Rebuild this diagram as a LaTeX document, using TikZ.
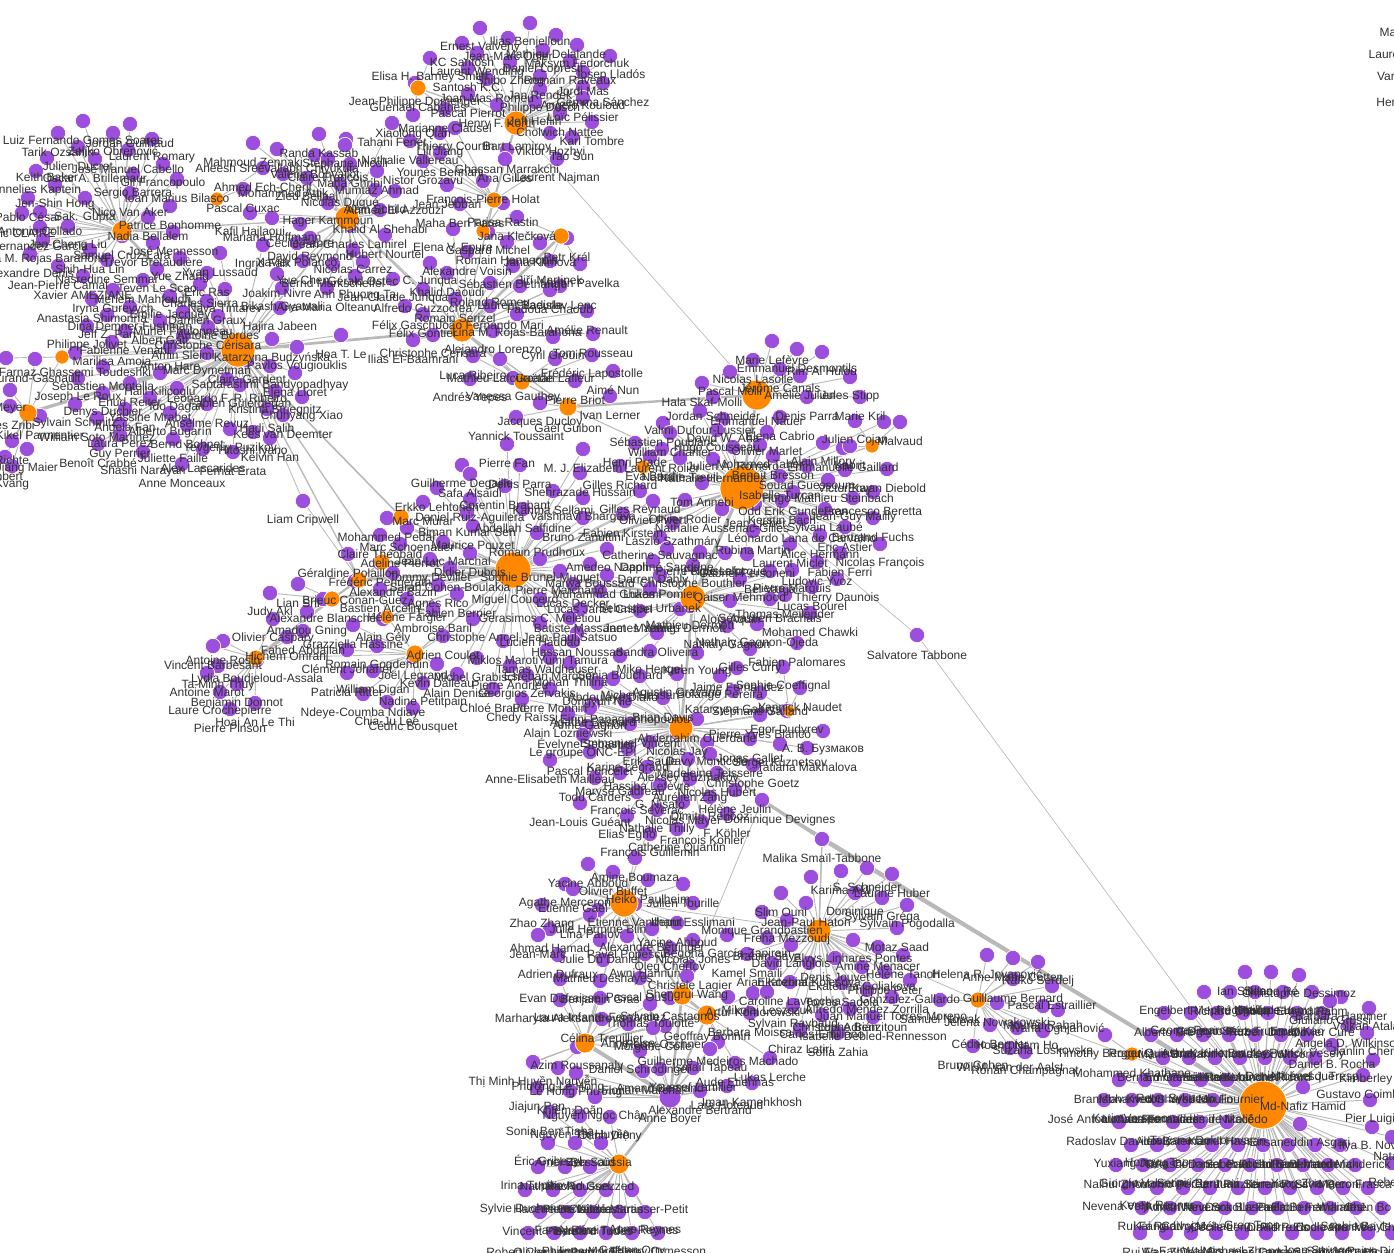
\documentclass[tikz,border=0pt]{standalone}
\usepackage{fontspec}
\setmainfont{Liberation Sans}
\definecolor{leafpurple}{RGB}{155,79,220}
\definecolor{huborange}{RGB}{255,136,0}
\definecolor{labelgrey}{RGB}{50,50,50}
\definecolor{linkgrey}{RGB}{185,185,185}
\pgfdeclarelayer{linklayer}
\pgfdeclarelayer{hublayer}
\pgfdeclarelayer{textlayer}
\pgfsetlayers{linklayer,main,hublayer,textlayer}
\tikzset{
  leaf/.style={circle,fill=leafpurple,draw=white,line width=0.5pt,inner sep=0pt,minimum size=11.5pt},
  hub/.style={circle,fill=huborange,draw=white,line width=0.5pt,inner sep=0pt},
  lab/.style={inner sep=0pt,text=labelgrey,font=\fontsize{9}{10}\selectfont},
  link/.style={draw=linkgrey,line width=0.7pt},
}
% one hub with its leaves; every item is x / y of the label / text, the leaf sits 19 above its label
\newcommand{\cluster}[2]{%
  \foreach \x/\y/\t [count=\i] in {#2} {%
    \pgfmathtruncatemacro{\ny}{\y-19}%
    \node[leaf] (#1\i) at (\x,\ny) {};
  }%
  \begin{pgfonlayer}{textlayer}
    \foreach \x/\y/\t [count=\i] in {#2} {\node[lab] (#1t\i) at (\x,\y) {\t};}
  \end{pgfonlayer}
  \begin{pgfonlayer}{linklayer}
    \foreach \x/\y/\t [count=\i] in {#2} {\draw[link] (#1) -- (#1\i);}
  \end{pgfonlayer}
}
\begin{document}
\begin{tikzpicture}[x=0.75pt,y=-0.75pt]
  \useasboundingbox (0,0) rectangle (1394,1252);

  % hubs
  \begin{pgfonlayer}{hublayer}
  \foreach \h/\x/\y/\r in {cerisara/238/350/17,nadia/122/231/10,meyer/28/413/9,jolivet/62/357/7,zeyd/347/218/12,cuxac/217/199/7,
    heflin/516/123/12,elisa/418/88/8,holat/494/200/8,rastin/483/231/7,jana/561/236/8,joao/462/330/12,rigazio/522/382/8,lerner/568/407/9,
    canals/757/395/15,bresson/742/488/22,malvaud/872/446/7,rolier/643/467/7,pomier/693/598/13,sophie/513/570/18,brieuc/332/599/8,
    frederic/359/580/8,adeline/382/562/8,marc/401/517/8,helene/387/617/7,adrien/415/654/9,hichem/256/658/8,brian/681/728/12,naudet/789/711/6,
    tajeuna/624/903/14,wang/682/995/10,iagnos/707/1015/10,celina/585/1043/10,bessou/619/1164/10,zanpir/819/931/12,guillaume/978/1000/8,
    timothy/1132/1054/7,nafiz/1263/1105/24}
    \node[hub,minimum size=\r*1.5pt] (\h) at (\x,\y) {};
  \node[leaf,minimum size=16.5pt] (amand) at (670,1097) {};
  \end{pgfonlayer}

  % leaves
  \cluster{nadia}{83/140/Luiz Fernando Gomes Soares,130/143/Jordan Guilhaud,58/152/Tarik Ozsahin,113/152/Zeljko Obrenović,152/158/Laurent Romary,
    78/166/Julien Ducret,128/169/José Manuel Cabello,47/177/Keith Baker,95/178/Oscar A. Brillemaur,163/183/Gil Francopoulo,133/193/Sergio Barrera,36/190/Annelies Kaptein,
    177/198/Ioan Marius Bilasco,55/204/Jen-Shin Hong,28/217/Pablo César,85/217/Sak. Gupta,130/212/Nico Van Aker,170/225/Patrice Bonhomme,40/231/Antonio Collado,
    22/232/Éric CLAIRE,148/236/Nadia Bellalem,40/246/Fernandez Garcia,68/245/Jen-Cheng Liu,122/255/Samuel Cruz-Lara,173/251/José Mennesson,43/259/Lina M. Rojas Barahona,
    153/262/Trevor Bretaudière,90/269/Shih-Hua Lin,30/273/Alexandre Denis,107/279/Nasredine Semmar,58/285/Jean-Pierre Camal,83/295/Xavier AMEZIANE}
  \cluster{cerisara}{180/277/Yue Zhang,220/272/Yvan Lussaud,157/288/Teven Le Scao,207/292/Eric Ras,277/293/Joakim Nivre,143/299/Meriem Mahfoudh,113/309/Iryna Gurevych,
    200/303/Charles Sierra,225/308/Nava Tintarev,282/307/Bikash Gyawali,263/264/Ingrid Falk,92/318/Anastasia Shimorina,170/315/Emilie Jacquey,207/320/Damien Graux,280/327/Hajira Jabeen,
    130/326/Dina Demner-Fushman,183/331/Muriel Foulonneau,107/334/Jeff Z. Pan,218/335/Antoine Bordes,160/340/Albert Gatt,87/345/Philippe Jolivet,208/346/Christophe Cérisara,
    125/350/Fabienne Venant,183/355/Amin Sleimi,272/358/Katarzyna Budzyńska,112/361/Marilisa Amoia,297/366/Pavlos Vougiouklis,170/366/Anton Hare,207/372/Marc Dymetman,
    75/372/Farnaz Ghassemi Toudeshki,247/379/Claire Gardent,270/385/Saptarashmi Bandyopadhyay,103/386/Sébastien Montella,295/392/Elena Lloret,160/392/Halil Kilicoglu,78/397/Joseph Le Roux,
    227/398/Leonardo F. R. Ribeiro,130/402/Ehud Reiter,177/407/Ido Dagan,240/404/Fabien Gülerdeğan,275/410/Kristina Striegnitz,302/416/Chunyang Xiao,103/412/Denys Duchier,150/417/Yassine Mrabet,
    75/423/Sylvain Schmitz,207/423/Anselme Revuz,125/428/Angela Fan,267/428/Hadi Salih,170/432/Alberto Bugarín,283/434/Kees van Deemter,97/437/William Soto Martinez,
    120/443/Laura Perez,230/448/Yevgeniy Puzikov,187/444/Bernd Bohnet,253/451/Hitoshi Iyano,120/454/Guy Perrier,270/457/Kelvin Han,173/458/Juliette Faille,98/463/Benoît Crabbé,
    203/468/Alex Lascarides,143/471/Shashi Narayan,233/471/Ferhat Erata,182/483/Anne Monceaux,341/354/Hoa T. Le}
  \cluster{jolivet}{6/377/{}}
  \cluster{meyer}{10/409/Meyer,35/378/Durand-Gasnault,10/425/Ines Zribi,40/435/Kikel Parmentier,12/460/Richte,27/468/Jiang Maier,5/476/Robert,12/485/Kvang}
  \cluster{cuxac}{243/208/Pascal Cuxac,263/187/Ahmed Ech-Cherif}
  \cluster{zeyd}{319/153/Randa Kassab,346/158/{},253/162/Mahmoud Zennaki,277/168/Aneesh Sreevallabh Chivukula,315/174/Valérie Bonvallot,
    328/178/Claire François,283/193/Mohammed Attik,350/183/Maha Ghribi,307/197/Zied Bellaaj,377/190/Mumtaz Ahmad,340/203/Nicolas Dugué,392/142/Tahani Fenet,345/164/Stéphane Micoli,
    328/222/Hager Kammoun,380/229/Khalid Al Shehabi,272/237/Mariana Hoffmann,250/232/Kafil Hajlaoui,300/243/Cécile Fabre,350/244/Jean-Charles Lamirel,297/262/Xavier Polanco,
    310/257/David Reymond,385/254/Hubert Nourtel,353/269/Nicolas Carrez,333/283/Bernd Markscheffel,303/280/Yue Chen,363/281/Gérald Ostec,355/295/Anh Phuong Ta,393/298/Jean-Claude Junqua,
    327/307/Ana-Maria Olteanu,423/308/Alfredo Cuzzocrea,395/210/Ahmed El Azzouzi,375/209/Alain Schild}
  \cluster{heflin}{530/42/Ilias Benjelloun,480/47/Ernest Valveny,508/57/Jean-Marc Ogier,556/54/Mathieu Delalande,462/62/KC Santosh,577/64/Maksym Fedorchuk,543/69/Daniel Lopresti,
    477/72/Laurent Wendling,610/75/Josep Lladós,570/80/Romain Raveaux,510/81/Shibo Zheng,468/87/Santosh K.C.,583/91/Jordi Mas,540/95/Jan Rendek,603/102/Gemma Sánchez,487/98/Joan Mas Romeu,
    583/106/Angelo Kouloud,540/108/Philippe Dosch,468/113/Pascal Pierrot,583/117/Loïc Pélissier,535/121/Jeff Heflin,497/124/Henry F. Korth,560/132/Cholwich Nattee,592/141/Karl Tombre,
    517/147/Bart Lamiroy,572/156/Tao Sun,550/152/Viktor Hozhyi}
  \cluster{elisa}{430/77/Elisa H. Barney Smith,415/102/Jean-Philippe Domenger,418/107/Guénaël Cabanes,445/128/Marianne Clausel,413/134/Xiaolong Qian}
  \cluster{holat}{455/147/Thierry Courtin,440/152/Lili Jiang,410/160/Nathalie Vallereau,507/169/Ghassan Marrakchi,557/178/Laurent Najman,423/180/Nistor Grozavu,440/172/Younès Bennani,
    483/200/François-Pierre Holat,505/178/Ana Gilles,447/204/Jean Jebbari}
  \cluster{rastin}{503/222/Parisa Rastin,460/223/Maha Ben Fares,516/236/{}}
  \cluster{jana}{517/236/Jana Klečková,488/251/Gaspard Michel,507/261/Romain Hennequin,567/257/Petr Král,550/280/Jiří Martinek,580/283/Martin Pavelka,540/262/Jana Klímová}
  \cluster{joao}{453/248/Elena V. Epure,467/271/Alexandre Voisin,430/282/C. Junqua,447/292/Khalid Daoudi,513/285/Sébastien Dethange,560/305/Ladislav Lenc,550/309/Fadoua Chaoub,
    455/318/Romain Serizel,405/325/Félix Gaschi,490/325/João Fernando Mari,423/333/Félix Gontier,517/333/Lina M. Rojas-Barahona,587/330/Amélie Renault,493/350/Alejandro Lorenzo,
    433/354/Christophe Cerisara,593/353/Tom Rousseau,413/359/Ilias El-Baamrani,553/356/Cyril Grouin,490/302/Roland Romeu,520/305/Laurent Baeurle}
  \cluster{rigazio}{592/374/Frédéric Lapostolle,473/375/Luca Ribeiro,500/378/Mathieu Lafourcade,555/378/Gaëtan Lafleur,613/390/Aimé Nun,513/397/Vanessa Gauthey,575/400/Pierre Briot,470/398/Andrés Yepes}
  \cluster{lerner}{610/415/Ivan Lerner,540/422/Jacques Ducloy,568/428/Gaël Guibon,516/436/Yannick Toussaint}
  \cluster{canals}{772/360/Marie Lefèvre,797/368/Emmanuel Desmontils,822/371/Rim Al Hulou,753/379/Nicolas Lasolle,780/388/Jérôme Canals,730/391/Pascal Molli,800/395/Amélie Julien,
    850/396/Jules Stipp,702/402/Hala Skaf-Molli,713/416/Jordan Schneider,757/421/Emmanuel Nauer,807/416/Denis Parra,860/416/Marie Kril}
  \cluster{bresson}{700/430/Valmi Dufour-Lussier,723/438/David W. Aha,780/436/Elena Cabrio,663/442/Sébastien Poublanc,670/452/William Charlier,767/451/Olivier Marlet,717/449/Hugo Cousseau,
    733/466/Julien A. Romero,760/464/Mohamed Taher,823/462/Alain Millory,843/467/Emmanuelle Gaillard,773/475/Benoît Bresson,713/478/Nathalie Hernandez,807/485/Souad Guessoum,
    887/488/Erwan Diebold,845/489/Victor Kay,780/495/Isabelle Turcan,828/499/Hugo Mathieu Steinbach,702/502/Tom Annebi,793/511/Odd Erik Gundersen,873/511/Francesco Beretta,
    853/517/Jean-Guy Mailly,755/523/Jean Lieber,782/520/Kerstin Bach,685/519/Olivier Rodier,722/528/Nathalie Aussenac-Gilles,825/528/Sylvain Laubé,873/537/Bertrand Fuchs,
    802/538/Léonardo Lana de Carvalho,673/542/László Szathmáry,845/546/Éric Astier,753/550/Rubina Martin,820/554/Alice Hermann,660/556/Catherine Sauvagnac,880/563/Nicolas François,
    790/563/Laurent Miclet,840/572/Fabien Ferri,747/573/Gabriel Personeni,817/581/Ludovic Yvoz,884/441/{}}
  \cluster{malvaud}{900/441/Malvaud,855/440/Julien Cojan,850/465/Kabrit}
  \cluster{rolier}{635/462/Henri Prade,662/468/Laurent Rolier,620/485/Gilles Richard,650/476/Eva Bard,680/477/Nathalie Treuil}
  \cluster{pomier}{693/584/Christophe Bouthier,792/589/Pierre Marquis,740/598/Qaiser Mehmood,770/590/Bel Varga,837/598/Thierry Daunois,812/606/Lucas Bourel,650/608/Sebastian Urbanek,785/614/Thomas Meilender,
    770/618/Sébastien Brachais,690/625/Mathieu Dermott,730/620/Aloïs Aquin,810/632/Mohamed Chawki,757/643/Nathaly Gagnon-Ojeda,680/628/Matthieu Dermott,640/630/James Yeung,727/645/Nathaly Gagnon,
    600/610/Lucas Janet Crispel,660/594/Lukas Pomier,607/594/Muhammad Ghaemi,653/580/Darren Dahly,667/568/Daphné Sandrine,700/571/Pierre Rousselot,725/572/Felipe Laforgue,797/662/Fabien Palomares,
    750/668/Gilles Curry,697/672/Karen Young,657/652/Sandra Oliveira,577/652/Hassan Noussad,620/675/Sonia Bouchard,650/670/Miko Hengel}
  \cluster{sophie}{462/484/Guilherme Degaille,470/493/Safa Alsaidi,507/463/Pierre Fan,583/468/M. J. Elizabeth,520/484/Denis Parra,580/492/Shehrazade Hussain,437/507/Erkko Lehtonen,505/505/Corentin Brabant,
    553/510/Karima Sellami,640/510/Gilles Reynaud,470/518/Daniel Ruiz-Aguilera,583/517/Vaishnavi Bhargava,653/520/Olivier Pivert,523/528/Abdallah Saffidine,583/537/Bruno Zanuttini,623/533/Fabien Kirstein,
    387/537/Mohammed Pedar,467/532/Biman Kumar Sen,407/547/Marc Schoenauer,473/545/Maurice Pouzet,537/552/Romain Prudhoux,443/561/Jean-Luc Marchal,470/572/Didier Dubois,607/568/Amedeo Napoli,430/578/Tommy Devillet,
    540/578/Sophie Brunel-Muguet,590/583/Marwa Boussaïd,450/587/Sarah Cohen-Boulakia,515/600/Miguel Couceiro,560/590/Pierre Marchand,438/604/Agnès Rico,573/603/Lucas Decker,457/613/Fabien Bernier,540/618/Gerasimos C. Meletiou,
    580/628/Batiste Massanet,570/637/Jean-Paul Satsuo,540/642/Lucien Haddad,473/638/Christophe Ancel,503/660/Miklos Maroti,573/660/Yumi Tamura,547/669/Tamas Waldhauser,550/677/Esteban Marquer,570/682/Mohan Thilina,
    477/677/Michel Grabisch,510/685/Pierre Andrieu,527/694/Georgios Zervakis,457/693/Alain Denise,493/708/Chloé Braud}
  \cluster{marc}{423/521/Marc Murar}
  \cluster{adeline}{380/554/Claire Théobald,400/563/Adeline Pierrot}
  \cluster{frederic}{348/573/Géraldine Polaillon,380/582/Frédéric Pennerath,393/592/Alexandre Bazin}
  \cluster{brieuc}{355/600/Brieuc Conan-Guez,298/603/Lian Shi,270/612/Judy Akl,323/618/Alexandre Blansché,307/631/Amadou Gning}
  \cluster{helene}{380/608/Bastien Arcelin,407/618/Hélène Fargier,433/628/Ambroise Baril,383/638/Alain Gély}
  \cluster{adrien}{353/644/Grazziella Hassine,443/655/Adrien Coulet,377/665/Romain Gogdendin,347/669/Clément Johanet,413/676/Joël Legrand,437/683/Kévin Dalleau,373/690/William Digan,347/692/Patricia Ritter,
    423/702/Nadine Petitpain,363/713/Ndeye-Coumba Ndiaye,387/721/Chia-Ju Lee,413/727/Cédric Bousquet}
  \cluster{hichem}{273/638/Olivier Caspary,303/650/Fahed Abdallah,287/656/Hichem Omrani,223/660/Antoine Rosin,213/665/Vincent Barbesant,257/679/Lydia Boudjeloud-Assala,218/685/Ta-Minh Thuy,207/692/Antoine Marot,
    237/703/Benjamin Donnot,220/711/Laure Crochepierre,255/722/Hoai An Le Thi,230/728/Pierre Pinson}
  \cluster{brian}{677/693/Agustin Gravano,720/695/Solange Pereira,737/687/Jaime Fernandez,613/698/Abdoulaye Diallo,640/695/Michel Hassan,597/702/Dongyun Nie,550/708/Pierre Monnin,522/718/Chedy Raïssi,733/710/Katarzyna Gabrys,
    663/717/Brian Davis,593/723/Agathe Besnard,625/720/Eirini Papagiannopoulou,760/734/Pierre-Yves Blanco,787/730/Egor Dudyrev,697/738/Abderrahim Ouerdane,590/727/Anne Gagnon,568/733/Alain Lozniewski,630/743/Emmanuel Vincent,
    587/745/Évelyne Sebastien,823/750/A. B. Бузмаков,677/752/Nicolas Jay,583/754/Le groupe ONC-EPI,750/758/Jonas Gallet,650/761/Erik Saule,707/762/Davy Monticolo,780/763/Sergei Kuznetsov,807/767/Tatiana Makhalova,
    628/768/Karine Legrand,710/773/Madeleine Teisseire,590/771/Pascal Poncelet,550/779/Anne-Elisabeth Mailleau,688/778/Aleksey Buzmakov,753/784/Christophe Goetz,647/786/Hassiba Lefèvre,717/792/Nicolas Hubert,
    620/792/Maryse Gadreau,595/797/Todd Carders,690/798/Aurélien Zang,660/804/G. Nisato,735/809/Hélène Jeulin,637/811/François Severac,710/816/Dimitri Renooz,580/822/Jean-Louis Guéant,683/821/Nicolas Mayer,
    657/829/Nathalie Thilly,727/833/F. Köhler,627/835/Elias Egho,702/841/François Kohler,677/848/Catherine Quantin,650/853/François Guillemin}
  \cluster{naudet}{783/686/Sophie Coeffignal,800/707/Yannick Naudet,760/712/Stéphane Galland}
  \cluster{tajeuna}{588/883/Yacine Abboud,635/877/Amine Boumaza,613/891/Olivier Buffet,648/899/Heiko Paulheim,683/903/Julien Tourille,565/903/Agathe Merceron,573/908/Etienne Gaël,693/922/Ilham Esslimani,635/923/Étienne Vandeput,
    542/924/Zhao Zhang,598/929/Julie Hermine Blin,590/934/Lina Parlov,677/942/Yacine Abboud,550/948/Ahmad Hamad,652/948/Alexandre Bettinger,538/954/Jean-Marc,627/955/Pavel Popescu,600/959/Julie Du Daniel,
    558/974/Adrien Dufraux,603/979/Mathieu Deshayes,645/973/Awni Hannun}
  \cluster{wang}{693/959/Nicolas Jones,670/967/Oleg Chertov,690/986/Christèle Lagier,687/995/Shengrui Wang,640/997/Pascal Ousu,728/1016/{}}
  \cluster{iagnos}{670/1017/Sylvain Castagnos,707/1037/Geoffray Bonnin,750/1032/Barbara Moissa,753/1012/Artur Komorowski,665/1045/Rémy Oschner,718/1061/Guilherme Medeiros Machado,770/1077/Lukas Lerche,735/1082/Aude Etiennas}
  \cluster{celina}{560/998/Evan Dufraisse,600/1000/Benjamin Gras,560/1019/Marharyta Aleksandrova,600/1017/Laura Infante-Fernandez,650/1023/Thomas Toulotte,602/1038/Célina Treuillier,628/1043/Anne-Lise,653/1047/Morgane Colle,
    577/1066/Azim Roussanaly,640/1070/Daniel Schrodinger,533/1082/Thị Minh Huyền Nguyễn,558/1087/Phương Lê Hồng,533/1081/{}}
  \cluster{amand}{643/1090/Florian Marchal,693/1087/Youssef Lartillier,576/1092/Lê Hồng Phương,727/1105/Lara Hoteaud,752/1102/Iman Kamehkhosh,537/1107/Jiajun Pan,700/1110/Alexandre Bertrand,670/1120/Anne Boyer,595/1116/Nguyễn Ngọc Chân,
    570/1110/Khiêm Doãn,660/1088/Amand Bertrand,710/1068/Ismaïl Tapeau}
  \cluster{bessou}{548/1162/Éric Gribezyl,575/1162/Amel Ben Saïd,601/1162/Bessoussia,550/1131/Sonia Ben Tiaba,580/1135/Nguyễn Thị Huyền,610/1136/Oanh Diệny,538/1186/Irina Tupikova,565/1186/Nathalie Roussel,590/1186/Rachid Guezzed,
    525/1209/Sylvie Duchenne,553/1209/Hacène Benoît,580/1209/Pierre Nicolas,606/1209/Claude Martin,632/1209/Valérie Strasser-Petit,540/1231/Vincent Pierre,567/1231/Fanny Rémi,593/1231/Bernard Tudes,619/1231/Nadine Tudes-Reynes,645/1231/Anne Reynes,
    528/1252/Robert Chauvin,554/1252/Olivier Lambert,580/1252/Philippe Morel,606/1252/Patrick Fabre,632/1252/Gaëtan Orry,658/1252/Thierry Ormesson}
  \cluster{zanpir}{811/896/{},841/890/Karima Akli,867/887/S. Schneider,892/893/Laurine Huber,781/912/Slim Ouni,806/922/Jean-Paul Haton,855/912/Dominique,882/917/Sylvain Gréga,907/924/Sylvain Pogodalla,762/931/Monique Grandbastien,
    787/939/Freha Mezzoudj,897/947/Motaz Saad,727/954/Begoña García-Zapirain,767/957/Brahim Saya,791/964/David Langlois,853/959/Elvys Linhares Pontes,878/966/Amine Menacer,747/973/Kamel Smaïli,772/982/Arian Kozbial,809/982/Ekaterina Kolesova,
    835/977/Denis Jouvet,862/986/Ekaterina Goliakova,903/974/Hélène Tanoh,885/991/Philippe Peter,910/999/Gonzalez-Gallardo,790/1001/Caroline Lavecchia,842/1002/Torres Sadola,867/1009/Alfredo Méndez Zorrilla,892/1016/Juan Manuel Torres-Moreno,
    767/1011/Mikolaj Leszczuk,793/1024/Sylvain Raybaud,822/1034/Carlos-Emiliano,848/1027/Luis Adrián,873/1036/Isabelle Debled-Rennesson,800/1049/Chiraz Latiri,838/1052/Sofia Zahia,850/1028/Christophe Benzitoun}
  \cluster{guillaume}{987/974/Helena R. Jovanović,1013/977/Anne-Marie Cotten,1038/981/Raïko Serdelj,1013/998/Guillaume Bernard,1052/1005/Pascal Estraillier,1043/1025/Mourad Rabah,997/1022/Jelena Nowakowski,1058/1029/Ivana Ognjanović,
    990/1044/Cédric Bernier,1017/1047/Hoang Nam Ho,1043/1050/Suzana Loskovska,973/1065/Bruno Cohen,1010/1067/Wil M. van der Aalst,1025/1071/Ronan Champagnat,940/1019/Samuel Nowak}
  \cluster{timothy}{1105/1054/Timothy Bergquist,1132/1073/Mohammed Khathane}
  \cluster{nafiz}{1245/991/Ian Sillano,1271/991/Sillano Ré,1299/994/Christophe Dessimoz,1204/1011/Engelbert Mephu Nguifo,1230/1011/Richard Chbeir,1255/1011/Régine Laleau,1283/1011/Philippe Lamarre,1312/1011/Erhard Rahm,1341/1016/Barbara Hammer,
    1369/1027/Volkan Atalay,1349/1044/Angela D. Wilkinson,1164/1032/Alberto Pre,1191/1032/George Pearce,1217/1032/Gregorio Pérez,1243/1032/Diego Sáez-Trumper,1268/1032/Ruben Dorado,1297/1032/Emily Kao,1323/1032/Olivier Curé,
    1330/1020/Giuliano Grossi,1151/1054/Roger Quintana,1177/1054/Marie Brahami,1203/1054/Ashley Kirkman,1229/1054/Karine Bradley,1255/1054/Nicolas Cook,1281/1054/Alex Wilson,1307/1054/Patrick Vesely,1332/1064/Daniel B. Rocha,
    1373/1079/Kimberley A.,1367/1052/Jianlin Cheng,1163/1077/Bernard Gressier,1189/1077/Emmanuel Roux,1215/1077/Hélène Kobl,1240/1077/Alain Voinchet,1265/1077/Alexandre Ricard,1290/1077/Daniel Lévesque,1315/1077/Michael J. Tresp,
    1363/1094/Gustavo Coimbra,1119/1099/Branislav Kveton,1145/1099/Mohamed Gharbi,1175/1099/Peter Sykacek,1201/1099/Yves Moulin,1227/1099/Jean Fournier,1303/1106/Md-Nafiz Hamid,1370/1119/Pier Luigi,1104/1119/José Antonio Lozano,
    1132/1119/Karin Verspoor,1158/1119/Ana Fernandes,1185/1119/Luciana Fernandes de Macêdo,1213/1119/Vladimir Nikolić,1300/1143/Ehsaneddin Asgari,1372/1146/Ilya B. Novik,1119/1141/Radoslav Davidović,1173/1141/Alex Bateman,1200/1141/Tatyana Doktorova,
    1227/1141/Kamel Hassan,1131/1164/Yuxiang Jiang,1157/1164/Hongyu Tao,1183/1164/Takashi Daniel,1212/1164/Corinne Lebas,1238/1164/Saber Aridhi,1263/1164/Paul Stothard,1288/1164/Fouad Boukhatem,1315/1164/Rémi Manderick,1340/1164/Bernard Manderick,
    1392/1156/Natalie,1116/1184/Naihui Zhou,1143/1184/Giorgio Valentini,1170/1184/Antonio Pérez,1198/1184/Sergei Bennani,1225/1184/Clara Pizzuti,1250/1184/Juan Serrano,1277/1184/Karen Ross,1303/1184/Yang Zhang,1328/1184/Silvio Peroni,1355/1184/Marco Frasca,
    1392/1182/Rebecca,1128/1207/Nevena Veljkovic,1157/1207/Keren Ragnar,1183/1207/Adrian Nevers,1210/1207/Maria Sokol,1238/1207/Dora Blasco,1265/1207/Liz Pedro,1290/1207/Paula Bernal,1317/1207/Pablo Fernandes,1343/1207/William J.,1368/1207/Chen Bo,
    1142/1227/Rui Fang,1170/1227/Kai Radivojac,1197/1227/Cathy Méhari,1225/1227/Cécile Lenoir,1252/1227/Greg Topp,1278/1227/David Pons,1304/1227/Pierre Cochrane,1330/1227/Elodie Franke,1356/1227/Sophie Bayle,1382/1227/Wei Chen,
    1140/1252/Rui Fa,1166/1252/Wan Zhu,1191/1252/Fay Walters,1216/1252/Dale Fournier,1242/1252/Michael Zhang,1266/1252/Lisa Carlsen,1292/1252/Laura Sarah,1317/1252/Joan Savage,1342/1252/Sabine Pajon,1368/1252/Jacques Dion,1392/1252/Alicia Marin}

  % text without a node of its own
  \begin{pgfonlayer}{textlayer}
    \foreach \n/\x/\y/\t in {edgea/1388/32/Ma,edgeb/1384/54/Laure,edgec/1386/76/Var,edged/1386/102/Her}
      \node[lab] (\n) at (\x,\y) {\t};
  \end{pgfonlayer}

  % free leaves
  \node[leaf] (liam) at (303,501) {};
  \node[leaf] (salvatore) at (917,635) {};
  \node[leaf] (malika) at (822,839) {};
  \node[leaf] (goetz) at (762,800) {};
  \begin{pgfonlayer}{textlayer}
    \node[lab] (liamt) at (303,520) {Liam Cripwell};
    \node[lab] (salvatoret) at (917,655) {Salvatore Tabbone};
    \node[lab] (malikat) at (822,858) {Malika Smaïl-Tabbone};
    \node[lab] (goetzt) at (780,820) {Dominique Devignes};
  \end{pgfonlayer}

  % links between the hubs
  \begin{pgfonlayer}{linklayer}
    \foreach \a/\b/\w in {cerisara/joao/2,cerisara/nadia/2,cerisara/meyer/2.5,cerisara/zeyd/1.2,cerisara/jolivet/0.8,jolivet/meyer/0.6,nadia/zeyd/1,zeyd/joao/1.2,holat/zeyd/0.8,
      heflin/holat/1.5,heflin/elisa/1,holat/joao/1,rastin/holat/0.8,jana/joao/2,rigazio/joao/1.5,lerner/joao/1,lerner/canals/1.8,lerner/bresson/0.8,rigazio/lerner/1,
      canals/bresson/2,malvaud/bresson/1,rolier/bresson/1,bresson/pomier/2.5,bresson/sophie/2,sophie/pomier/2,pomier/brian/2,brian/naudet/1,brian/goetz/1.5,goetz/malika/2.5,
      malika/nafiz/3,goetz/nafiz/1,timothy/nafiz/1,zanpir/malika/1,zanpir/guillaume/0.6,guillaume/nafiz/0.6,sophie/adeline/1.5,sophie/frederic/2,sophie/brieuc/1.5,sophie/marc/1,
      sophie/helene/1,sophie/adrien/1,brieuc/hichem/2,frederic/brieuc/1.5,adeline/frederic/1,helene/adrien/0.8,hichem/adrien/0.6,cerisara/marc/1.2,cerisara/frederic/1,cerisara/adeline/1,
      liam/cerisara/0.6,liam/frederic/0.6,heflin/canals/0.5,bresson/salvatore/0.5,salvatore/nafiz/0.5,tajeuna/brian/0.8,tajeuna/wang/1.5,wang/iagnos/2,iagnos/celina/1.5,celina/amand/3,
      tajeuna/celina/1,tajeuna/amand/1,wang/amand/2,iagnos/amand/1.5,amand/bessou/2,tajeuna/zanpir/0.6,goetz/wang/0.6,malika/zanpir/0.8}
      \draw[link,line width=\w pt] (\a) -- (\b);
  \end{pgfonlayer}
\end{tikzpicture}
\end{document}
